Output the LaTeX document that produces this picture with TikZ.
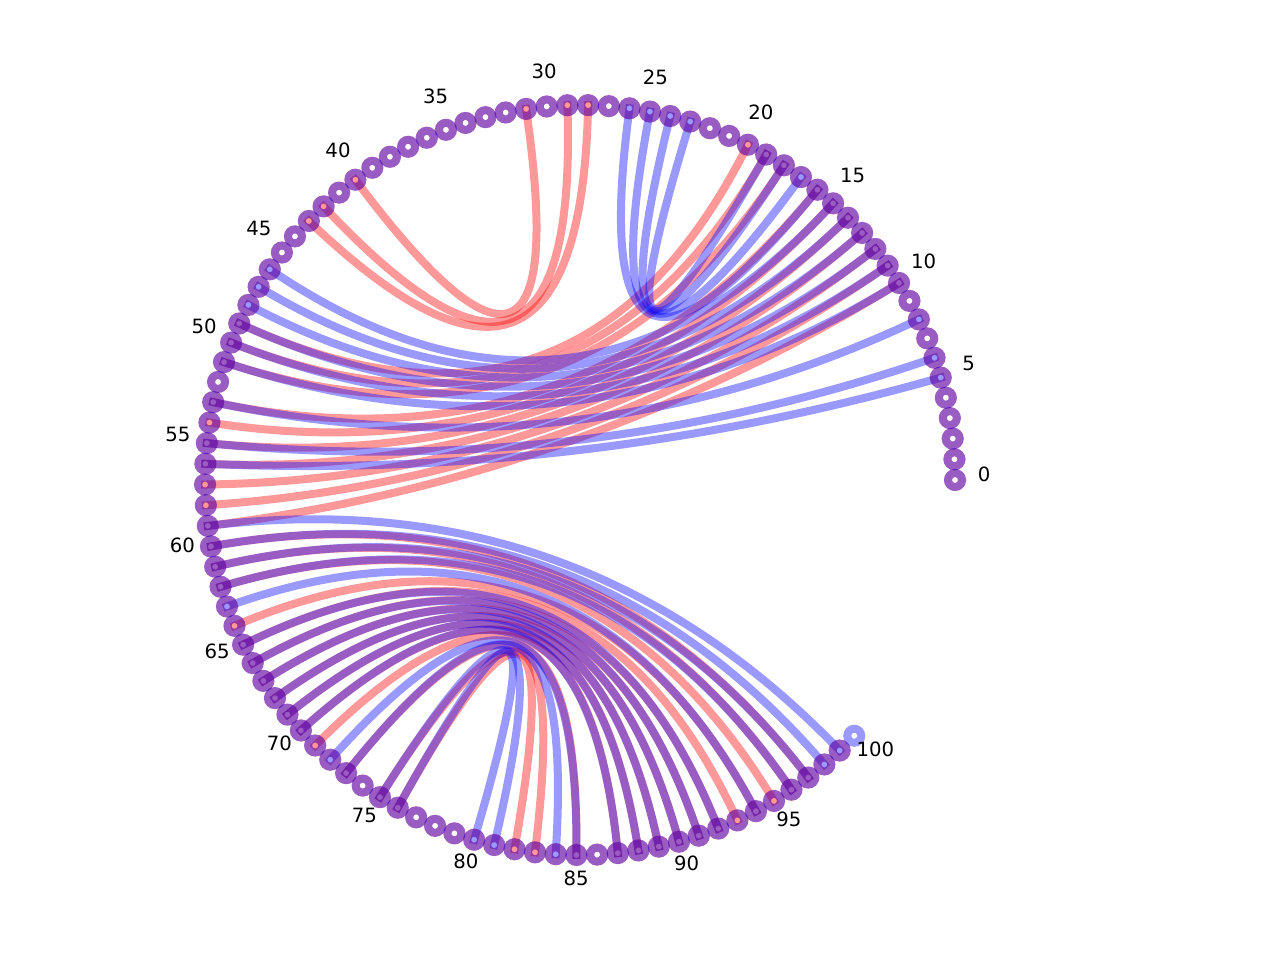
\documentclass[tikz,border=0pt]{standalone}
\usepackage{fontspec}
\setmainfont{DejaVu Sans}
\usetikzlibrary{calc}
\tikzset{
  redarc/.style={draw=red, draw opacity=0.4, line width=0.08cm, line cap=rect},
  bluearc/.style={draw=blue, draw opacity=0.4, line width=0.08cm, line cap=rect},
  redring/.style={draw=red, draw opacity=0.4, line width=0.08cm},
  bluering/.style={draw=blue, draw opacity=0.4, line width=0.08cm},
  idx/.style={font=\fontsize{5.6}{6}\selectfont, inner sep=0pt}
}
\begin{document}
\begin{tikzpicture}
\useasboundingbox (0,0) rectangle (12.8,9.6);
\coordinate (o) at (5.8,4.8);
% positions on the arc
\foreach \k in {0,...,100} {
  \coordinate (p\k) at ($(o)+({\k*3.17}:3.75)$);
}
% red pairs
\foreach \i/\j in {10/59,11/58,12/57,13/56,14/55,15/54,16/53,18/51,19/50,20/49,
  28/43,29/42,31/40,60/97,61/96,62/95,64/94,65/93,66/92,67/91,68/90,69/89,
  70/88,71/87,73/85,75/83,76/82} {
  \draw[redarc] (p\i) .. controls ($(p\i)!0.6667!(o)$) and ($(p\j)!0.6667!(o)$) .. (p\j);
}
% blue pairs
\foreach \i/\j in {5/56,6/55,8/53,10/51,11/50,12/49,13/48,14/47,15/46,16/26,
  17/25,18/24,19/23,59/99,60/98,61/97,62/96,63/94,65/92,66/91,67/90,68/89,
  69/88,70/87,72/85,73/84,75/81,76/80} {
  \draw[bluearc] (p\i) .. controls ($(p\i)!0.6667!(o)$) and ($(p\j)!0.6667!(o)$) .. (p\j);
}
% rings
\foreach \k in {0,...,99} {
  \draw[redring] (p\k) circle (0.07);
}
\foreach \k in {0,...,100} {
  \draw[bluering] (p\k) circle (0.07);
}
% index labels
\foreach \k in {0,5,...,100} {
  \node[idx] (l\k) at ($(o)+({\k*3.17}:4.04)+(0,0.06)$) {\k};
}
\end{tikzpicture}
\end{document}
